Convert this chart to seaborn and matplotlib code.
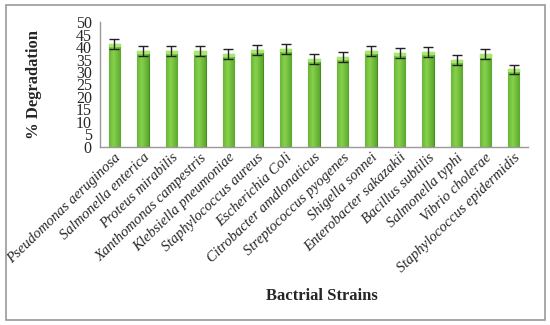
import numpy as np
import pandas as pd
import matplotlib
matplotlib.use("Agg")
import matplotlib.pyplot as plt
from matplotlib.patches import Rectangle
import seaborn as sns

strains = ["Pseudomonas aeruginosa", "Salmonella enterica", "Proteus mirabilis",
           "Xanthomonas campestris", "Klebsiella pneumoniae", "Staphylococcus aureus",
           "Escherichia Coli", "Citrobacter amdlonaticus", "Streptococcus pyogenes",
           "Shigella sonnei", "Enterobacter sakazakii", "Bacillus subtilis",
           "Salmonella typhi", "Vibrio cholerae", "Staphylococcus epidermidis"]
degradation = [41.3, 38.5, 38.4, 38.3, 37.2, 39.0, 39.2, 35.2, 36.1, 38.5, 37.7, 38.0, 34.8, 37.1, 31.2]
errors = [2.0, 2.0, 2.0, 2.0, 2.0, 2.0, 2.0, 2.0, 2.0, 2.0, 2.0, 2.0, 2.0, 2.0, 1.8]

df = pd.DataFrame({"strain": strains, "degradation": degradation, "err": errors})

sns.set_style("white")
plt.rcParams["font.family"] = ["Liberation Serif", "DejaVu Serif"]

fig = plt.figure(figsize=(5.5, 3.25), dpi=100)
ax = fig.add_axes([0.182, 0.548, 0.778, 0.384])

sns.barplot(data=df, x="strain", y="degradation", color="#6abf3a", width=0.4,
            edgecolor="#4a8a25", linewidth=0.8, ax=ax)

# green gradient fill on each bar
grad = np.linspace(0, 1, 64)
shade = 1 - 0.6 * np.abs(grad - 0.4) / 0.6
cmap = sns.blend_palette(["#3f8a1c", "#86d24a"], as_cmap=True)
for p in ax.patches:
    x0, y0 = p.get_x(), p.get_y()
    w, h = p.get_width(), p.get_height()
    im = ax.imshow(shade[np.newaxis, :], extent=[x0, x0 + w, y0, y0 + h],
                   aspect="auto", cmap=cmap, vmin=0, vmax=1, zorder=p.get_zorder())
    im.set_clip_path(p)
    # lighter cap on top
    ax.add_patch(Rectangle((x0, y0 + h - 0.9), w, 0.9, color="#a8e870", zorder=p.get_zorder() + 0.1))

ax.errorbar(x=np.arange(len(strains)), y=df["degradation"], yerr=df["err"], fmt="none",
            ecolor="#222222", elinewidth=1.0, capsize=3.5, capthick=1.0, zorder=5)

ax.set_xlim(-0.5, len(strains) - 0.5)
ax.set_ylim(0, 50)
ax.set_yticks(np.arange(0, 51, 5))
ax.tick_params(axis="y", labelsize=11.5, length=3, color="#888888", pad=3)
ax.tick_params(axis="x", length=0, pad=3)
ax.set_xticks(np.arange(len(strains)))
ax.set_xticklabels(strains, rotation=44, ha="right", rotation_mode="anchor",
                   fontsize=10.5, fontstyle="italic")
for s in ["top", "right"]:
    ax.spines[s].set_visible(False)
for s in ["left", "bottom"]:
    ax.spines[s].set_color("#999999")
    ax.spines[s].set_linewidth(1.0)

ax.set_ylabel("% Degradation", fontsize=12, fontweight="bold", labelpad=24)
ax.set_xlabel("")
fig.text(0.585, 0.09, "Bactrial Strains", ha="center", va="center",
         fontsize=12, fontweight="bold")

fig.patches.append(Rectangle((0.01, 0.015), 0.98, 0.97, transform=fig.transFigure,
                             fill=False, edgecolor="#999999", linewidth=1.2))

fig.savefig("out.png", dpi=100)
